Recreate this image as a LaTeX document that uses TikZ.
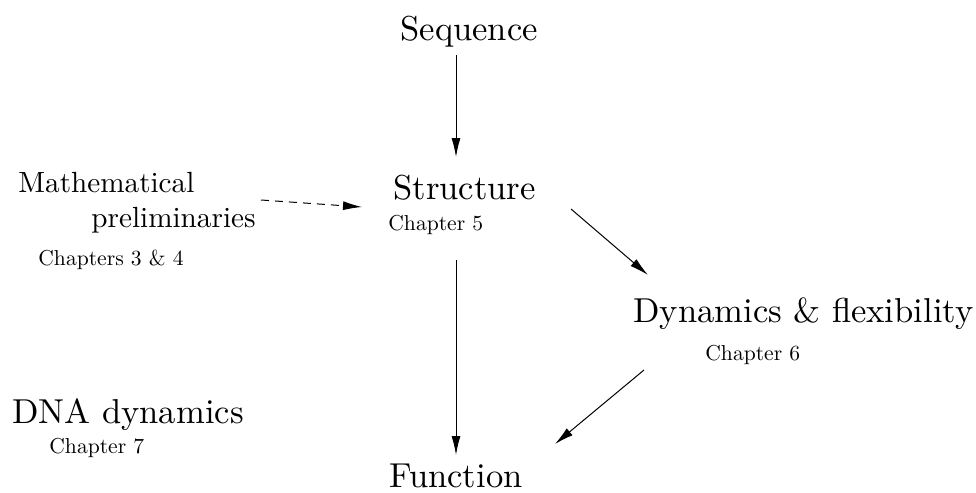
\documentclass[tikz,border=0pt]{standalone}
\usepackage{fontspec}
\newfontfamily\lmten{lmroman10-regular}[Extension=.otf]
\usetikzlibrary{arrows.meta}
\begin{document}
\begin{tikzpicture}[x=0.5pt,y=-0.5pt,
  big/.style={inner sep=0pt,anchor=base west,font=\lmten\fontsize{17.3}{21}\selectfont},
  mid/.style={inner sep=0pt,anchor=base west,font=\lmten\fontsize{14.6}{18}\selectfont},
  small/.style={inner sep=0pt,anchor=base west,font=\lmten\fontsize{10.8}{13}\selectfont},
  conn/.style={line width=0.5pt,-{Latex[length=9.5pt,width=4.5pt]}},
  dconn/.style={conn,dash pattern=on 4pt off 3pt}]
\useasboundingbox (0,0) rectangle (976,493);
\node[big] (seq) at (400,40) {Sequence};
\node[big] (str) at (393,199) {Structure};
\node[small] (ch5) at (388,230) {Chapter 5};
\node[mid] (math) at (18,192) {Mathematical};
\node[mid] (prel) at (91,227) {preliminaries};
\node[small] (ch34) at (38,265) {Chapters 3 \& 4};
\node[big] (dyn) at (633,322) {Dynamics \& flexibility};
\node[small] (ch6) at (705,360) {Chapter 6};
\node[big] (dna) at (12,423) {DNA dynamics};
\node[small] (ch7) at (49,453) {Chapter 7};
\node[big] (fun) at (389,487) {Function};
\coordinate (a1) at (456,55);
\coordinate (a2) at (456,157);
\coordinate (b1) at (261,200);
\coordinate (b2) at (362,207);
\coordinate (c1) at (456,260);
\coordinate (c2) at (456,455);
\coordinate (d1) at (571,209);
\coordinate (d2) at (648,275);
\coordinate (e1) at (644,370);
\coordinate (e2) at (555,444);
\draw[conn] (a1) -- (a2);
\draw[dconn] (b1) -- (b2);
\draw[conn] (c1) -- (c2);
\draw[conn] (d1) -- (d2);
\draw[conn] (e1) -- (e2);
\end{tikzpicture}
\end{document}
